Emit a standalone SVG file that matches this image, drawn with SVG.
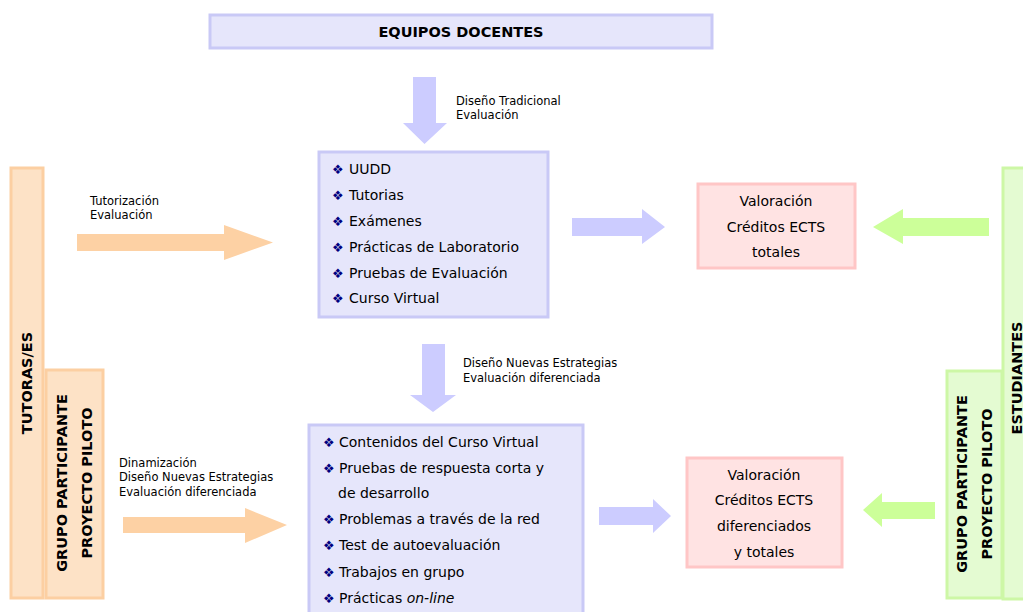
<svg xmlns="http://www.w3.org/2000/svg" width="1023" height="612" viewBox="0 0 1023 612">
<style>
.bg{fill:#ffffff}
.lav{fill:#e6e6fb;stroke:#c9c9f6;stroke-width:3}
.pk{fill:#ffe3e3;stroke:#ffc6c6;stroke-width:3}
.or{fill:#fde2c6;stroke:#fccfa2;stroke-width:3}
.gr{fill:#e4fbd2;stroke:#cdf7a6;stroke-width:3}
.ab{fill:#ccccff}
.ao{fill:#fdd1a4}
.ag{fill:#ccff99}
.t{font-family:"DejaVu Sans",Verdana,sans-serif;font-size:14px;fill:#000}
.s{font-family:"DejaVu Sans",Verdana,sans-serif;font-size:11.5px;fill:#000}
.b{font-family:"DejaVu Sans",Verdana,sans-serif;font-size:14.5px;font-weight:bold;fill:#000}
.c{text-anchor:middle}
.d{font-family:"DejaVu Sans",sans-serif;font-size:13px;fill:#000080}
</style>
<rect class="bg" x="0" y="0" width="1023" height="612"/>

<g id="connectors">
  <polygon class="ab" points="413,77 436,77 436,123 447,123 424.5,144 403,123 413,123"/>
  <polygon class="ab" points="422,344 445,344 445,395 456,395 433,412 410,395 422,395"/>
  <polygon class="ao" points="77,234 224,234 224,225 273,242.5 224,260 224,251 77,251"/>
  <polygon class="ao" points="123,517 245,517 245,508 287,525 245,543 245,533 123,533"/>
  <polygon class="ab" points="572,218 642,218 642,209 665,227 642,244 642,236 572,236"/>
  <polygon class="ab" points="599,507 653,507 653,499 671,516 653,533 653,525 599,525"/>
  <polygon class="ag" points="989,218 903,218 903,209 873,227 903,244 903,236 989,236"/>
  <polygon class="ag" points="935,502 882,502 882,493 863,510 882,527 882,519 935,519"/>
  <text class="s" x="456" y="105">Diseño Tradicional</text>
  <text class="s" x="456" y="119">Evaluación</text>
  <text class="s" x="90" y="205">Tutorización</text>
  <text class="s" x="90" y="219">Evaluación</text>
  <text class="s" x="463" y="367">Diseño Nuevas Estrategias</text>
  <text class="s" x="463" y="382">Evaluación diferenciada</text>
  <text class="s" x="119" y="467">Dinamización</text>
  <text class="s" x="119" y="481">Diseño Nuevas Estrategias</text>
  <text class="s" x="119" y="496">Evaluación diferenciada</text>
</g>

<g id="equipos">
  <rect class="lav" x="210" y="15" width="502" height="33"/>
  <text class="b c" x="461" y="37">EQUIPOS DOCENTES</text>
</g>

<g id="tradicional">
  <rect class="lav" x="319" y="152" width="229" height="165"/>
  <text class="d" x="332" y="174">❖</text><text class="t" x="349" y="174">UUDD</text>
  <text class="d" x="332" y="200">❖</text><text class="t" x="349" y="200">Tutorias</text>
  <text class="d" x="332" y="226">❖</text><text class="t" x="349" y="226">Exámenes</text>
  <text class="d" x="332" y="252">❖</text><text class="t" x="349" y="252">Prácticas de Laboratorio</text>
  <text class="d" x="332" y="278">❖</text><text class="t" x="349" y="278">Pruebas de Evaluación</text>
  <text class="d" x="332" y="303">❖</text><text class="t" x="349" y="303">Curso Virtual</text>
</g>

<g id="nuevas">
  <rect class="lav" x="309" y="425" width="274" height="190"/>
  <text class="d" x="323" y="447">❖</text><text class="t" x="339" y="447">Contenidos del Curso Virtual</text>
  <text class="d" x="323" y="473">❖</text><text class="t" x="339" y="473">Pruebas de respuesta corta y</text>
  <text class="t" x="338" y="498">de desarrollo</text>
  <text class="d" x="323" y="524">❖</text><text class="t" x="339" y="524">Problemas a través de la red</text>
  <text class="d" x="323" y="550">❖</text><text class="t" x="339" y="550">Test de autoevaluación</text>
  <text class="d" x="323" y="577">❖</text><text class="t" x="339" y="577">Trabajos en grupo</text>
  <text class="d" x="323" y="603">❖</text><text class="t" x="339" y="603">Prácticas <tspan font-style="italic">on-line</tspan></text>
</g>

<g id="valoracion1">
  <rect class="pk" x="698" y="184" width="157" height="84"/>
  <text class="t c" x="776" y="206">Valoración</text>
  <text class="t c" x="776" y="232">Créditos ECTS</text>
  <text class="t c" x="776" y="257">totales</text>
</g>

<g id="valoracion2">
  <rect class="pk" x="687" y="458" width="155" height="109"/>
  <text class="t c" x="764" y="480">Valoración</text>
  <text class="t c" x="764" y="505">Créditos ECTS</text>
  <text class="t c" x="764" y="531">diferenciados</text>
  <text class="t c" x="764" y="557">y totales</text>
</g>

<g id="tutoras">
  <rect class="or" x="11" y="168" width="32" height="430"/>
  <text class="b c" transform="translate(32,383) rotate(-90)">TUTORAS/ES</text>
</g>

<g id="grupo-tutoras">
  <rect class="or" x="46" y="370" width="57" height="228"/>
  <text class="b c" transform="translate(67,483) rotate(-90)">GRUPO PARTICIPANTE</text>
  <text class="b c" transform="translate(92,483) rotate(-90)">PROYECTO PILOTO</text>
</g>

<g id="estudiantes">
  <rect class="gr" x="1003" y="168" width="34" height="431"/>
  <text class="b c" transform="translate(1022,378) rotate(-90)">ESTUDIANTES</text>
</g>

<g id="grupo-estudiantes">
  <rect class="gr" x="947" y="371" width="55" height="227"/>
  <text class="b c" transform="translate(967,484) rotate(-90)">GRUPO PARTICIPANTE</text>
  <text class="b c" transform="translate(992,484) rotate(-90)">PROYECTO PILOTO</text>
</g>
</svg>
